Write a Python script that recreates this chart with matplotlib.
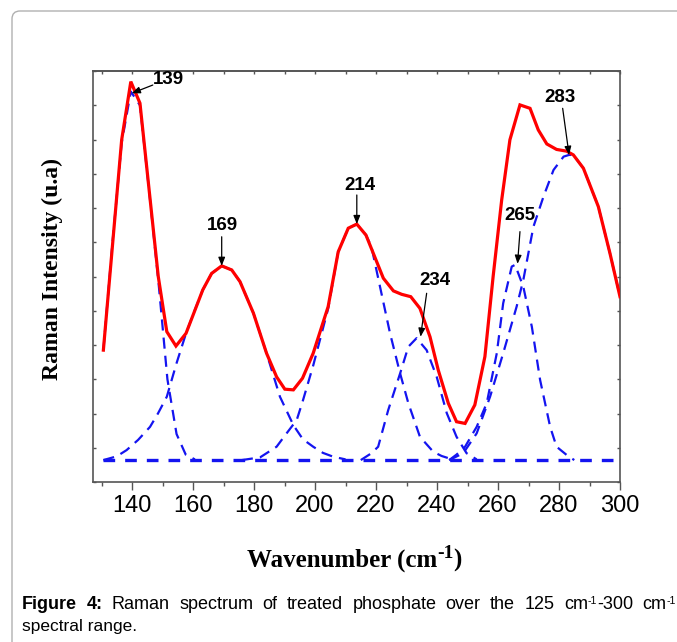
import matplotlib
matplotlib.use('Agg')
import matplotlib.pyplot as plt
from matplotlib.patches import FancyBboxPatch
from matplotlib.ticker import MultipleLocator, NullFormatter
from matplotlib import font_manager as fm

# ---------------- data ----------------
# measured (summed) spectrum
spec_x = [130.6, 136.6, 139.6, 142.6, 148.6, 151.4, 154.4, 157.7, 163.2, 166.1, 169.4,
          172.7, 175.4, 179.8, 184.1, 187.4, 190.1, 192.9, 195.9, 199.4, 204.3, 207.6,
          210.9, 213.7, 216.7, 222.4, 225.7, 228.4, 231.4, 234.4, 237.7, 240.4, 243.7,
          246.4, 249.2, 252.4, 255.7, 258.4, 261.2, 263.9, 267.2, 270.5, 273.2, 276.0,
          279.2, 282.5, 284.7, 288.0, 292.9, 296.7, 300.0]
spec_y = [385, 999, 1169, 1106, 600, 439, 397, 434, 561, 609, 631,
          619, 585, 493, 376, 307, 271, 269, 303, 376, 512, 672,
          741, 753, 721, 595, 558, 548, 541, 507, 424, 327, 230,
          176, 171, 225, 366, 600, 823, 999, 1101, 1091, 1028, 987,
          971, 966, 955, 916, 804, 668, 541]

# fitted components
c139_x = [130.6, 133.6, 136.6, 139.6, 142.6, 145.6, 148.6, 151.6, 154.6, 157.6, 160.6]
c139_y = [385, 700, 990, 1140, 1100, 850, 590, 300, 140, 80, 66]

c169_x = [130.6, 135.0, 138.2, 142.0, 145.9, 148.5, 151.4, 154.6, 157.7, 160.5, 163.2,
          166.1, 169.4, 172.7, 175.4, 179.8, 184.1, 188.5, 192.9, 196.0, 199.4, 202.6,
          205.9, 210.0]
c169_y = [64, 75, 93, 123, 161, 200, 249, 347, 434, 500, 561,
          609, 631, 619, 585, 493, 376, 249, 166, 125, 103, 85,
          74, 66]

c214_x = [176.0, 182.0, 187.4, 190.5, 194.0, 196.0, 199.4, 204.3, 207.6, 210.9, 213.7,
          216.7, 218.5, 222.4, 224.6, 227.9, 230.6, 234.4, 238.8, 241.5, 245.0]
c214_y = [64, 72, 103, 140, 181, 237, 340, 506, 672, 741, 753,
          721, 687, 525, 434, 317, 230, 132, 88, 76, 66]

c234_x = [215.0, 218.5, 220.7, 224.0, 227.9, 230.6, 233.3, 236.6, 239.9, 243.2, 246.4,
          249.7, 253.0]
c234_y = [64, 84, 103, 210, 317, 395, 420, 385, 307, 201, 132, 84, 66]

c265_x = [244.0, 246.4, 249.2, 253.0, 256.3, 259.6, 261.7, 264.5, 265.6, 268.3, 271.1,
          273.8, 277.1, 279.2, 282.5, 285.0]
c265_y = [64, 80, 103, 161, 230, 376, 522, 629, 634, 570, 453, 298, 161, 103, 79, 64]

c283_x = [244.0, 248.6, 253.0, 257.4, 261.7, 266.1, 268.3, 271.6, 274.9, 278.2, 281.5,
          283.3, 284.7, 288.0, 292.9, 296.7, 300.0]
c283_y = [64, 84, 142, 249, 376, 512, 590, 745, 833, 911, 950,
          955, 955, 916, 804, 668, 541]

base_x = [130.6, 300.0]
base_y = [64, 64]

peak_labels = ['139', '169', '214', '234', '265', '283']
peak_tip_x = [139.9, 169.4, 213.7, 234.6, 266.4, 283.3]
peak_tip_y = [1135, 631, 753, 424, 637, 955]

x_major = [140, 160, 180, 200, 220, 240, 260, 280, 300]

# ---------------- layout (label / arrow-tail placement) ----------------
label_xy = [(151.8, 1174), (169.8, 750), (214.7, 867), (239.3, 587), (267.2, 777), (280.3, 1124)]
tail_xy = [(146.8, 1159), (169.4, 716), (213.7, 838), (236.6, 551), (267.2, 731), (281.2, 1091)]

# ---------------- fonts ----------------
def has_font(name):
    try:
        fm.findfont(fm.FontProperties(family=name), fallback_to_default=False)
        return True
    except Exception:
        return False

NARROW = has_font('Liberation Sans Narrow')
plt.rcParams['font.family'] = ['Liberation Sans', 'DejaVu Sans']

W, H = 677, 642
fig = plt.figure(figsize=(W / 100, H / 100), dpi=100)
renderer = fig.canvas.get_renderer()

# rounded frame around the figure
frame = FancyBboxPatch((12 / 100, -0.5), 8.0, (H - 11) / 100 + 0.5,
                       boxstyle='round,pad=0,rounding_size=0.08',
                       transform=fig.dpi_scale_trans, facecolor='none',
                       edgecolor='#b0b0b0', lw=1.0, zorder=0)
fig.patches.append(frame)

ax = fig.add_axes([93 / W, 1 - 482 / H, (620 - 93) / W, (482 - 71) / H])

blue = '#1414f0'
comp_kw = dict(color=blue, lw=1.6, dashes=(5, 3.2), zorder=2)
ax.plot(base_x, base_y, color=blue, lw=2.4, dashes=(3.5, 3.0), zorder=2)
for cx, cy in [(c139_x, c139_y), (c169_x, c169_y), (c214_x, c214_y),
               (c234_x, c234_y), (c265_x, c265_y), (c283_x, c283_y)]:
    ax.plot(cx, cy, **comp_kw)
ax.plot(spec_x, spec_y, color='#ff0000', lw=2.3, zorder=3, solid_joinstyle='miter')

ax.set_xlim(127.2, 300)
ax.set_ylim(0, 1200)

spine_c = '#555555'
for s in ax.spines.values():
    s.set_color(spine_c)
    s.set_linewidth(1.2)

ax.set_xticks(x_major)
ax.xaxis.set_minor_locator(MultipleLocator(10))
ax.yaxis.set_major_locator(MultipleLocator(100))
ax.yaxis.set_major_formatter(NullFormatter())
ax.tick_params(axis='x', which='major', direction='out', length=5.5, width=1.0,
               color=spine_c, labelsize=17, pad=4, top=False)
ax.tick_params(axis='x', which='minor', direction='out', length=3.0, width=1.0,
               color=spine_c, top=False)
ax.tick_params(axis='y', which='major', direction='in', length=2.5, width=1.0,
               color=spine_c, left=True, right=True, labelleft=False)

top = ax.secondary_xaxis('top')
top.set_xticks(x_major)
top.xaxis.set_minor_locator(MultipleLocator(10))
top.tick_params(axis='x', which='both', direction='in', length=2.0, width=1.0,
                color=spine_c, labeltop=False)
top.spines['top'].set_color(spine_c)
top.spines['top'].set_linewidth(1.2)

# peak annotations
ann_family = ['Liberation Sans Narrow', 'Liberation Sans'] if NARROW else ['Liberation Sans']
ann_size = 15 if NARROW else 13.5
for lab, (lx, ly), (tx, ty), px_, py_ in zip(peak_labels, label_xy, tail_xy, peak_tip_x, peak_tip_y):
    ax.annotate('', xy=(px_, py_), xytext=(tx, ty),
                arrowprops=dict(arrowstyle='-|>,head_length=0.5,head_width=0.2',
                                color='black', lw=0.9, shrinkA=0, shrinkB=0,
                                mutation_scale=10), zorder=5)
    ax.text(lx, ly, lab, ha='center', va='center', fontsize=ann_size,
            fontweight='bold', family=ann_family, zorder=6)


# ---------- helper: text made of pieces (for superscripts) ----------
def make_word(pieces, y_px):
    """pieces: list of (text, kwargs, raise_px). Returns (list of Text, offsets, width)."""
    objs, offs = [], []
    x = 0.0
    for txt, kw, dy in pieces:
        t = fig.text(0, 1 - (y_px - dy) / H, txt, ha='left', va='baseline', **kw)
        w = t.get_window_extent(renderer).width
        objs.append(t)
        offs.append(x)
        x += w
    return objs, offs, x


def place_word(word, x_left):
    objs, offs, _ = word
    for t, o in zip(objs, offs):
        t.set_x((x_left + o) / W)


# axis titles
serif_b = dict(fontsize=18, fontweight='bold', family=['Liberation Serif', 'DejaVu Serif'])
serif_sup = dict(fontsize=14, fontweight='bold', family=['Liberation Serif', 'DejaVu Serif'])
fig.text(52 / W, 1 - 268.5 / H, 'Raman Intensity (u.a)', rotation=90,
         ha='center', va='center', fontsize=17, fontweight='bold',
         family=['Liberation Serif', 'DejaVu Serif'])
xl = make_word([('Wavenumber (cm', serif_b, 0), ('-1', serif_sup, 9), (')', serif_b, 0)], 567)
place_word(xl, 354.5 - xl[2] / 2)

# caption (justified first line)
cap_size = 13.0
nrm = dict(fontsize=cap_size)
bld = dict(fontsize=cap_size, fontweight='bold')
sup = dict(fontsize=7.5)
y1 = 609
words = [
    [('Figure', bld, 0)], [('4:', bld, 0)], [('Raman', nrm, 0)], [('spectrum', nrm, 0)],
    [('of', nrm, 0)], [('treated', nrm, 0)], [('phosphate', nrm, 0)], [('over', nrm, 0)],
    [('the', nrm, 0)], [('125', nrm, 0)],
    [('cm', nrm, 0), ('-1', sup, 5), ('-300', nrm, 0)],
    [('cm', nrm, 0), ('-1', sup, 5)],
]
built = [make_word(w, y1) for w in words]
left_px, right_px = 22.0, 676.0
gap = (right_px - left_px - sum(b[2] for b in built)) / (len(built) - 1)
xpos = left_px
for b in built:
    place_word(b, xpos)
    xpos += b[2] + gap
fig.text(22 / W, 1 - 631 / H, 'spectral range.', fontsize=12.5, ha='left', va='baseline')

fig.savefig('out.png', dpi=100)
